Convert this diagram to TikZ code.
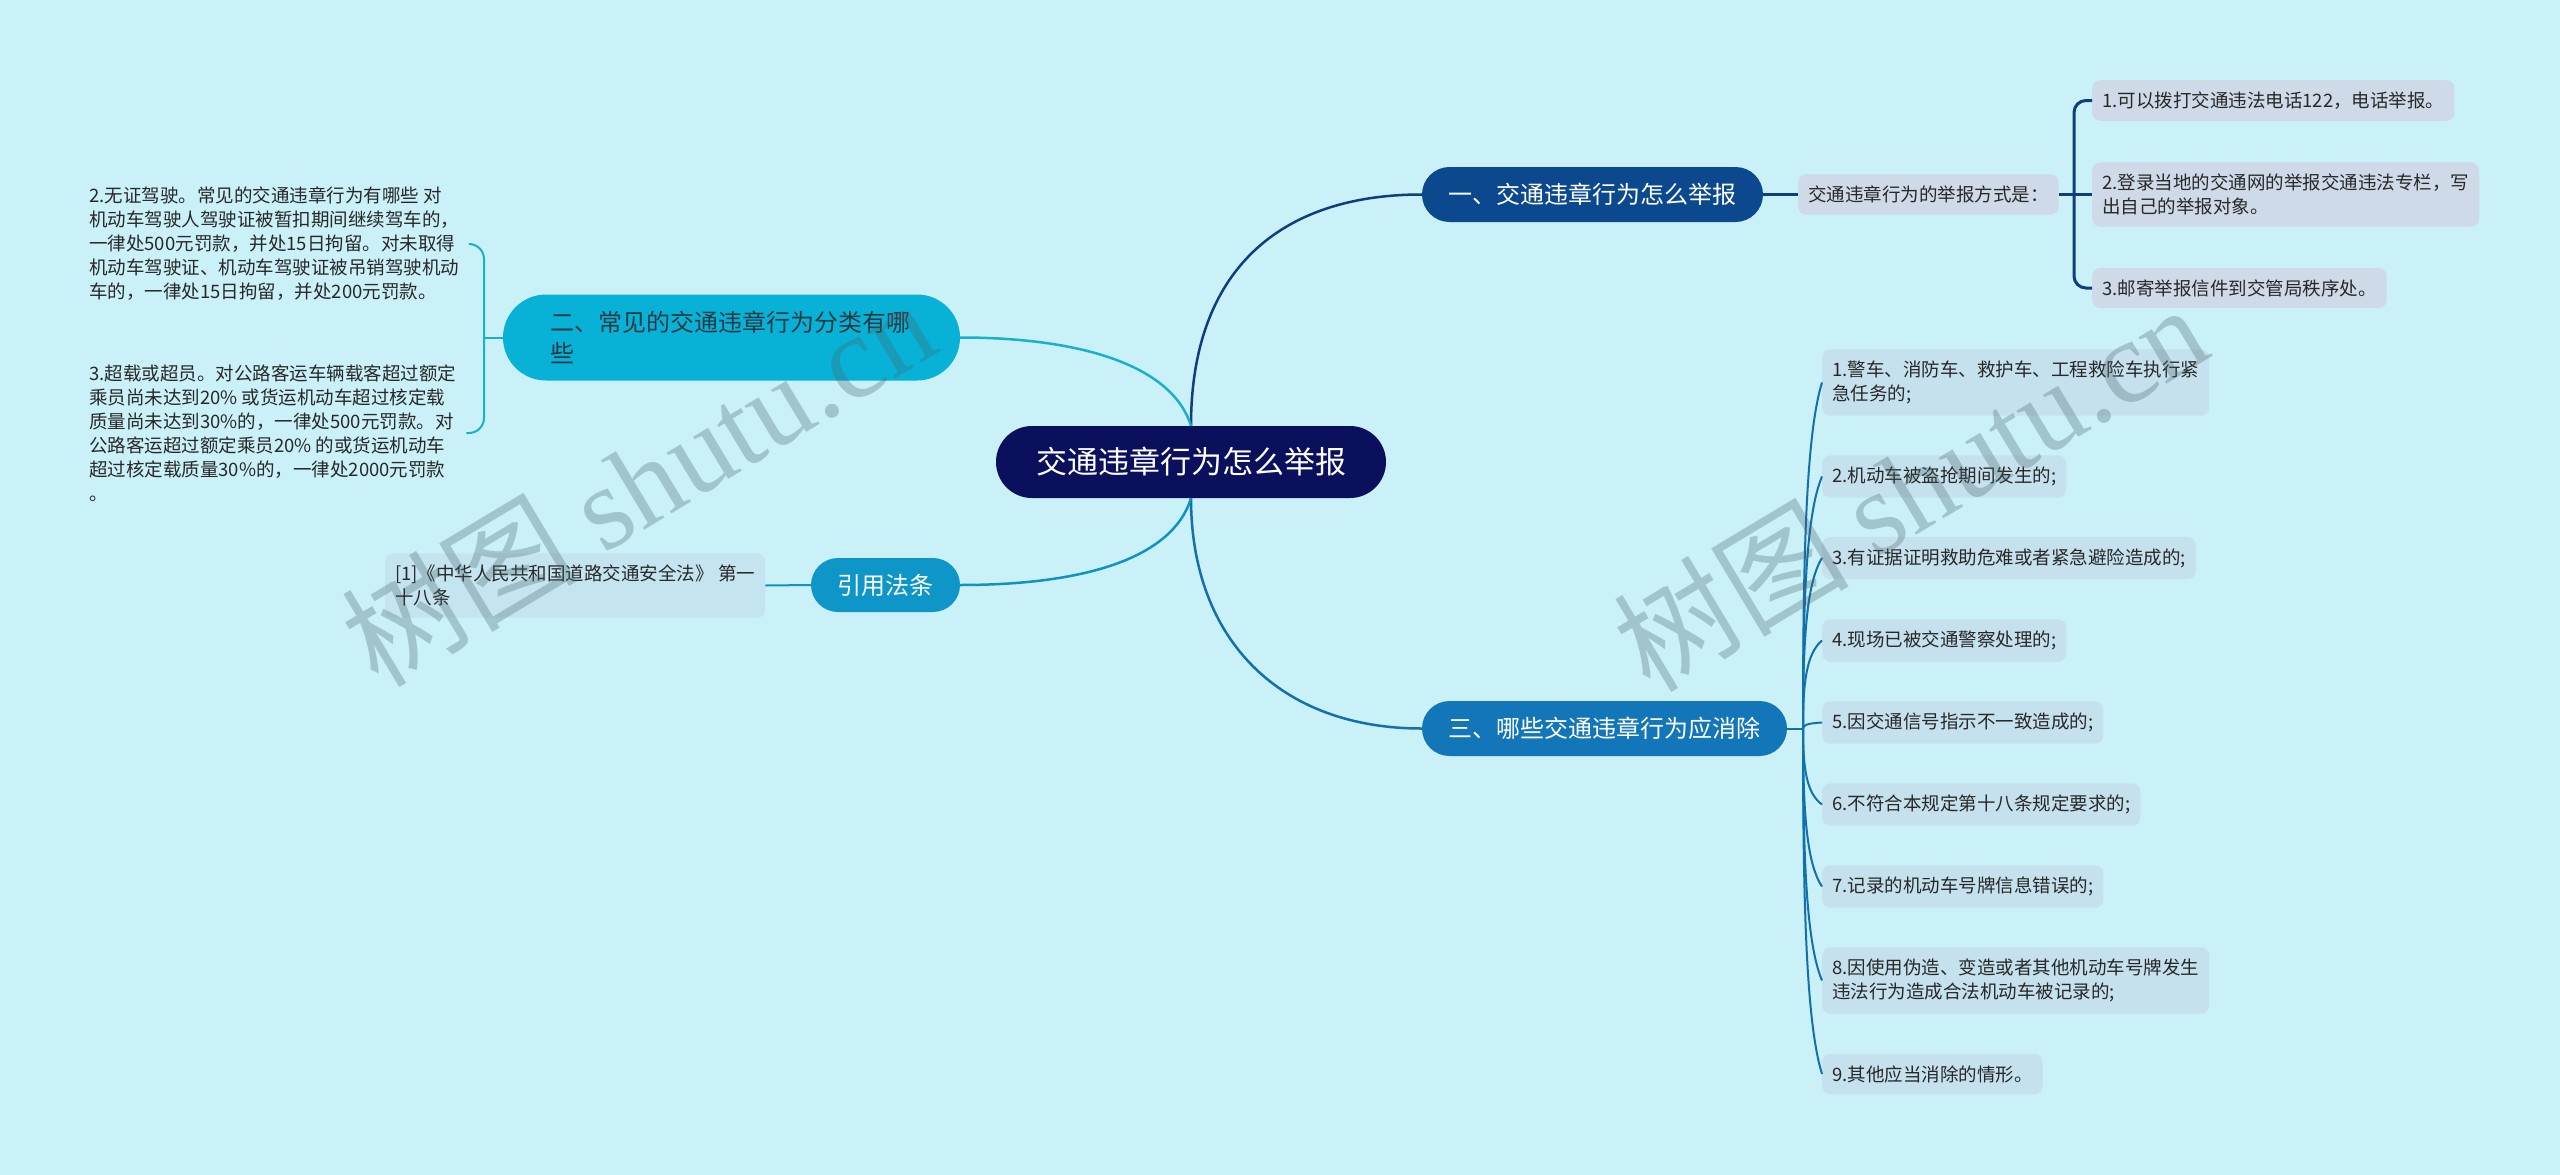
\documentclass[tikz,border=0pt]{standalone}
\usepackage{fontspec}
\setmainfont{Noto Sans CJK SC}
\newfontfamily\wmlatin{Liberation Serif}
\definecolor{bgc}{RGB}{202,240,248}
\definecolor{ctrc}{RGB}{10,16,92}
\definecolor{onec}{RGB}{12,72,142}
\definecolor{twoc}{RGB}{8,178,214}
\definecolor{twot}{RGB}{38,58,70}
\definecolor{threec}{RGB}{18,118,184}
\definecolor{citec}{RGB}{14,150,200}
\definecolor{leafa}{RGB}{206,218,232}
\definecolor{leafc}{RGB}{197,225,237}
\definecolor{leafq}{RGB}{196,228,240}
\definecolor{txt}{RGB}{40,40,40}
\definecolor{eone}{RGB}{15,62,128}
\definecolor{ethree}{RGB}{18,112,172}
\definecolor{etwo}{RGB}{25,176,204}
\definecolor{ecite}{RGB}{15,146,196}
\definecolor{wmc}{RGB}{70,100,105}
\usetikzlibrary{calc}
\begin{document}
\begin{tikzpicture}[x=1pt,y=-1pt,
  mainbox/.style={text=white, inner sep=0pt, minimum height=55pt, rounded corners=27.5pt, font=\fontsize{24}{31}\selectfont},
  leaf/.style={anchor=west, rounded corners=8pt, text=txt, inner xsep=10pt, inner ysep=11.5pt, align=left, font=\fontsize{18.5}{24}\selectfont},
  edgeone/.style={draw=eone, line width=2.5pt},
  edgetwo/.style={draw=etwo, line width=2.5pt},
  edgethree/.style={draw=ethree, line width=2.5pt},
  edgecite/.style={draw=ecite, line width=2.5pt},
  subthree/.style={draw=ethree, line width=2pt},
  brone/.style={draw=eone, line width=3pt, rounded corners=12pt},
  brtwo/.style={draw=etwo, line width=2pt, rounded corners=15pt},
  wm/.style={text=wmc, text opacity=0.3, inner sep=0pt, font=\fontsize{118}{118}\selectfont}
]
\fill[bgc] (0,0) rectangle (2560,1175);
\useasboundingbox (0,0) rectangle (2560,1175);

% central and main nodes
\node[fill=ctrc, text=white, inner sep=0pt, minimum width=390pt, minimum height=72pt, rounded corners=36pt, font=\fontsize{31}{36}\selectfont] (c) at (1191,462) {交通违章行为怎么举报};
\node[mainbox, fill=onec, minimum width=341pt] (n1) at (1592.5,194.5) {一、交通违章行为怎么举报};
\node[mainbox, fill=threec, minimum width=365pt] (n3) at (1604.5,728.5) {三、哪些交通违章行为应消除};
\node[mainbox, fill=twoc, text=twot, minimum width=457pt, minimum height=86pt, rounded corners=43pt, text width=362pt, align=left] (n2) at (731.5,337.5) {二、常见的交通违章行为分类有哪\\些};
\node[mainbox, fill=citec, minimum width=149pt, minimum height=54pt, rounded corners=27pt] (q) at (885.5,585) {引用法条};

% branch one
\node[leaf, fill=leafa] (a) at (1798,194.5) {交通违章行为的举报方式是：};
\node[leaf, fill=leafa] (a1) at (2092,100.5) {1.可以拨打交通违法电话122，电话举报。};
\node[leaf, fill=leafa] (a2) at (2092,194.5) {2.登录当地的交通网的举报交通违法专栏，写\\出自己的举报对象。};
\node[leaf, fill=leafa] (a3) at (2092,288) {3.邮寄举报信件到交管局秩序处。};
\coordinate (j1) at (2074,194.5);

% branch two
\node[leaf] (d1) at (79,244) {2.无证驾驶。常见的交通违章行为有哪些 对\\机动车驾驶人驾驶证被暂扣期间继续驾车的，\\一律处500元罚款，并处15日拘留。对未取得\\机动车驾驶证、机动车驾驶证被吊销驾驶机动\\车的，一律处15日拘留，并处200元罚款。};
\node[leaf] (d2) at (79,433) {3.超载或超员。对公路客运车辆载客超过额定\\乘员尚未达到20\% 或货运机动车超过核定载\\质量尚未达到30\%的，一律处500元罚款。对\\公路客运超过额定乘员20\% 的或货运机动车\\超过核定载质量30\%的，一律处2000元罚款\\。};
\coordinate (j2) at (484,337.5);

% citation
\node[leaf, fill=leafq] (q1) at (385,585.5) {[1]《中华人民共和国道路交通安全法》 第一\\十八条};

% branch three
\node[leaf, fill=leafc] (b1) at (1822,382.5) {1.警车、消防车、救护车、工程救险车执行紧\\急任务的;};
\node[leaf, fill=leafc] (b2) at (1822,476.5) {2.机动车被盗抢期间发生的;};
\node[leaf, fill=leafc] (b3) at (1822,558) {3.有证据证明救助危难或者紧急避险造成的;};
\node[leaf, fill=leafc] (b4) at (1822,640.5) {4.现场已被交通警察处理的;};
\node[leaf, fill=leafc] (b5) at (1822,722.5) {5.因交通信号指示不一致造成的;};
\node[leaf, fill=leafc] (b6) at (1822,804.5) {6.不符合本规定第十八条规定要求的;};
\node[leaf, fill=leafc] (b7) at (1822,886.5) {7.记录的机动车号牌信息错误的;};
\node[leaf, fill=leafc] (b8) at (1822,980.5) {8.因使用伪造、变造或者其他机动车号牌发生\\违法行为造成合法机动车被记录的;};
\node[leaf, fill=leafc] (b9) at (1822,1074) {9.其他应当消除的情形。};
\coordinate (j3) at (1803,728.5);

% main edges
\draw[edgeone] (c.north) .. controls (1191,270) and (1280,194.5) .. (n1.west);
\draw[edgethree] (c.south) .. controls (1191,640) and (1280,728.5) .. (n3.west);
\draw[edgetwo] (c.north) .. controls (1172,365) and (1080,337.5) .. (n2.east);
\draw[edgecite] (c.south) .. controls (1172,560) and (1080,585) .. (q.east);

% branch one connectors
\draw[brone] (n1.east) -- (a.west);
\draw[brone] (a.east) -- (j1) -- (a2.west);
\draw[brone] (a1.west) -| (j1) |- (a3.west);

% branch two connectors
\draw[brtwo] (n2.west) -- (j2);
\draw[brtwo] (d1.east) -| (j2) |- (d2.east);

% citation connector
\draw[edgecite, line width=2pt] (q1.east) -- (q.west);

% branch three connectors
\draw[subthree] (n3.east) -- (j3);
\foreach \n/\y in {b1/382.5,b2/476.5,b3/558,b4/640.5,b5/722.5,b6/804.5,b7/886.5,b8/980.5,b9/1074}{
  \draw[subthree] (j3) .. controls (1803,{728.5+0.5*(\y-728.5)}) and (1806,{\y+0.15*(728.5-\y)}) .. (\n.west);
}

% watermarks
\node[wm, rotate=31, anchor=base west] (w1) at (378,690) {树图 {\wmlatin shutu.cn}};
\node[wm, rotate=31, anchor=base west] (w2) at (1650,695) {树图 {\wmlatin shutu.cn}};
\end{tikzpicture}
\end{document}
